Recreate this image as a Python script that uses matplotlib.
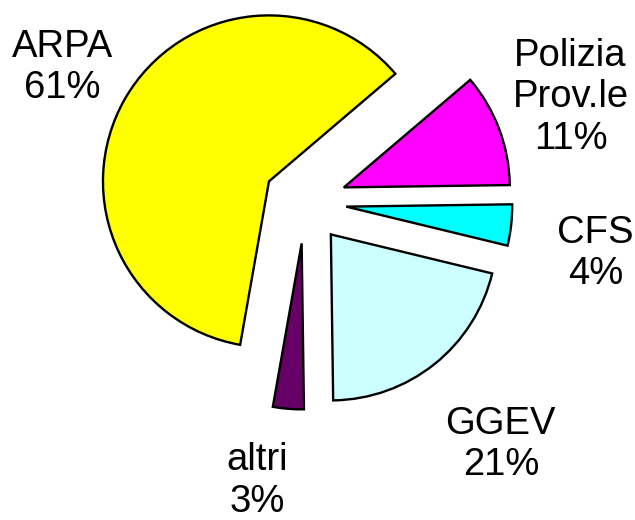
import matplotlib
matplotlib.use("Agg")
import matplotlib.pyplot as plt

# data
labels = ["ARPA", "Polizia\nProv.le", "CFS", "GGEV", "altri"]
shares = [61, 11, 4, 21, 3]
colors = ["#FFFF00", "#FF00FF", "#00FFFF", "#CCFFFF", "#660066"]

# label centres (data units, pie radius = 1)
label_pos = [(-1.46, 0.81), (1.60, 0.63), (1.75, -0.31), (1.18, -1.46), (-0.29, -1.68)]

plt.rcParams['font.family'] = ['Liberation Sans', 'DejaVu Sans']

fig = plt.figure(figsize=(6.35, 5.2), dpi=100)
ax = fig.add_axes([0, 0, 1, 1])

wedges, _ = ax.pie(shares, colors=colors, explode=[0.25] * len(shares),
                   startangle=260, counterclock=False, radius=1.0,
                   wedgeprops=dict(edgecolor="black", linewidth=1.7))

for lab, val, (x, y) in zip(labels, shares, label_pos):
    ax.text(x, y, f"{lab}\n{val}%", ha="center", va="center",
            fontsize=27.5, linespacing=1.2, color="black")

ax.set_aspect("equal")
ax.set_xlim(-1.837, 1.988)
ax.set_ylim(-1.916, 1.217)
ax.axis("off")

fig.savefig("out.png", dpi=100, facecolor="white")
